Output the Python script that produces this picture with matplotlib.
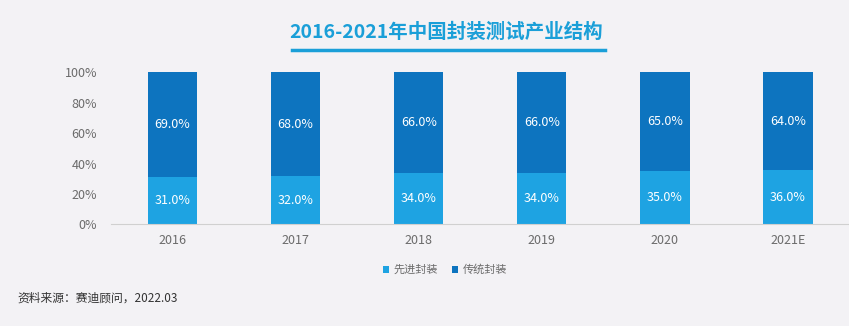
import numpy as np
import matplotlib
matplotlib.use('Agg')
import matplotlib.pyplot as plt

plt.rcParams['font.family'] = ['Noto Sans CJK SC', 'DejaVu Sans']

years = ['2016', '2017', '2018', '2019', '2020', '2021E']
advanced = [31.0, 32.0, 34.0, 34.0, 35.0, 36.0]
traditional = [69.0, 68.0, 66.0, 66.0, 65.0, 64.0]
series_names = ['先进封装', '传统封装']

BG = '#f3f2f5'
C_ADV = '#1ea3e2'
C_TRAD = '#0d74bf'
GRAY = '#6b6b6b'

fig = plt.figure(figsize=(8.49, 3.26), dpi=100, facecolor=BG)
ax = fig.add_axes([0.1307, 0.3117, 0.870, 0.466], facecolor=BG)

x = np.arange(len(years))
w = 0.40
b1 = ax.bar(x, advanced, w, color=C_ADV, label=series_names[0])
b2 = ax.bar(x, traditional, w, bottom=advanced, color=C_TRAD, label=series_names[1])

for i in range(len(years)):
    ax.text(x[i], advanced[i] / 2, '%.1f%%' % advanced[i], ha='center', va='center',
            color='white', fontsize=9)
    ax.text(x[i], advanced[i] + traditional[i] / 2, '%.1f%%' % traditional[i],
            ha='center', va='center', color='white', fontsize=9)

ax.set_xlim(-0.5, len(years) - 0.5)
ax.set_ylim(0, 100)
ax.set_yticks([0, 20, 40, 60, 80, 100])
ax.set_yticklabels(['%d%%' % v for v in [0, 20, 40, 60, 80, 100]])
ax.set_xticks(x)
ax.set_xticklabels(years)
ax.tick_params(axis='both', length=0, colors=GRAY, labelsize=9)
ax.tick_params(axis='y', pad=10)
ax.tick_params(axis='x', pad=7)
for s in ['top', 'right', 'left']:
    ax.spines[s].set_visible(False)
ax.spines['bottom'].set_color('#d0d0d0')

fig.text(0.526, 0.90, '2016-2021年中国封装测试产业结构', ha='center', va='center',
         fontsize=14, fontweight='bold', color='#1a9fd8')
fig.add_artist(plt.Line2D([0.344, 0.713], [0.847, 0.847], color='#1a9fd8', lw=2.5))

fig.legend(handles=[b1, b2], loc='center', bbox_to_anchor=(0.524, 0.172), ncol=2,
           frameon=False, fontsize=8, handlelength=0.6, handleheight=0.6,
           columnspacing=1.2, handletextpad=0.4, labelcolor=GRAY)

fig.text(0.021, 0.085, '资料来源：赛迪顾问，2022.03', ha='left', va='center',
         fontsize=8.5, color='#333333')

fig.savefig('out.png', dpi=100, facecolor=BG)
